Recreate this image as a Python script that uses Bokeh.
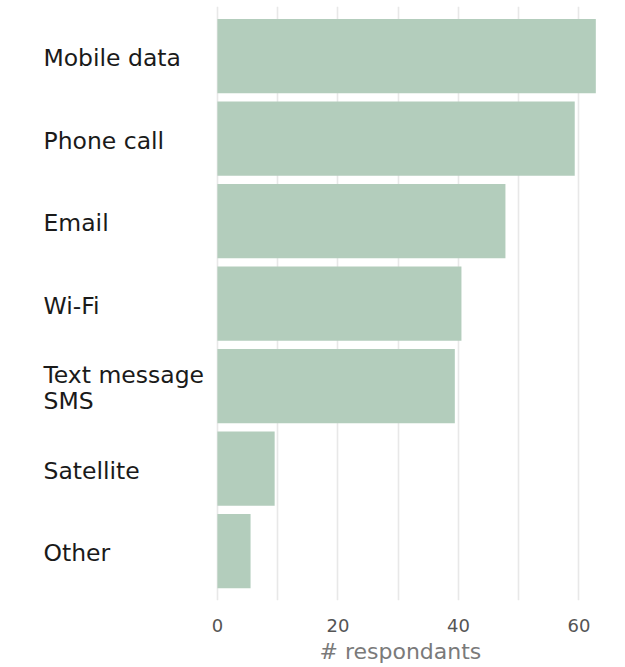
import numpy as np
from bokeh.plotting import figure
from bokeh.models import Range1d, FixedTicker, ColumnDataSource, Title
from bokeh.core.properties import value
from bokeh.embed import file_html
from bokeh.resources import INLINE

categories = ["Mobile data", "Phone call", "Email", "Wi-Fi", "Text message\nSMS", "Satellite", "Other"]
respondents = [62.8, 59.3, 47.8, 40.5, 39.4, 9.5, 5.5]
x_ticks = [0, 20, 40, 60]
grid_ticks = [0, 10, 20, 30, 40, 50, 60]
x_title = "# respondants"

FONT = "DejaVu Sans"
BAR_COLOR = "#b3cdbc"

X_START = -36.0     # room on the left for the category labels
X_END = 65.9
LABEL_X = -28.87    # left edge of the category labels

positions = list(range(1, len(categories) + 1))
src = ColumnDataSource(data=dict(y=positions, right=respondents, cat=categories,
                                 lx=[LABEL_X] * len(categories)))

p = figure(width=625, height=667, output_backend="svg", toolbar_location=None,
           x_range=Range1d(X_START, X_END), y_range=Range1d(start=len(categories) + 0.6, end=0.4),
           min_border_left=0, min_border_right=11, min_border_top=6, min_border_bottom=67)

p.outline_line_color = None
p.background_fill_color = "white"
p.border_fill_color = "white"

# grid
p.ygrid.visible = False
p.xgrid.ticker = FixedTicker(ticks=grid_ticks)
p.xgrid.grid_line_color = "#e8e8e8"
p.xgrid.grid_line_width = 1.6

p.hbar(y="y", right="right", left=0, height=0.9, source=src,
       fill_color=BAR_COLOR, line_color=None)

# x axis
p.xaxis.ticker = FixedTicker(ticks=x_ticks)
p.xaxis.axis_line_color = None
p.xaxis.major_tick_line_color = None
p.xaxis.minor_tick_line_color = None
p.xaxis.major_label_text_font = FONT
p.xaxis.major_label_text_font_size = "18px"
p.xaxis.major_label_text_color = "#555555"
p.xaxis.major_label_standoff = 12

# x-axis title, centred over the bar panel rather than the whole frame
p.add_layout(Title(text=x_title, align="left", offset=319, standoff=4,
                   text_font=FONT, text_font_size="22px", text_font_style="normal",
                   text_color="#7a7a7a"), "below")

p.yaxis.visible = False

# left-aligned category labels
p.text(x="lx", y="y", text="cat", source=src, text_font=value(FONT), text_font_size="23.5px",
       text_color="#1a1a1a", text_align="left", text_baseline="middle", text_line_height=0.95,
       y_offset=2)

open("out.html", "w").write(file_html(p, INLINE))
